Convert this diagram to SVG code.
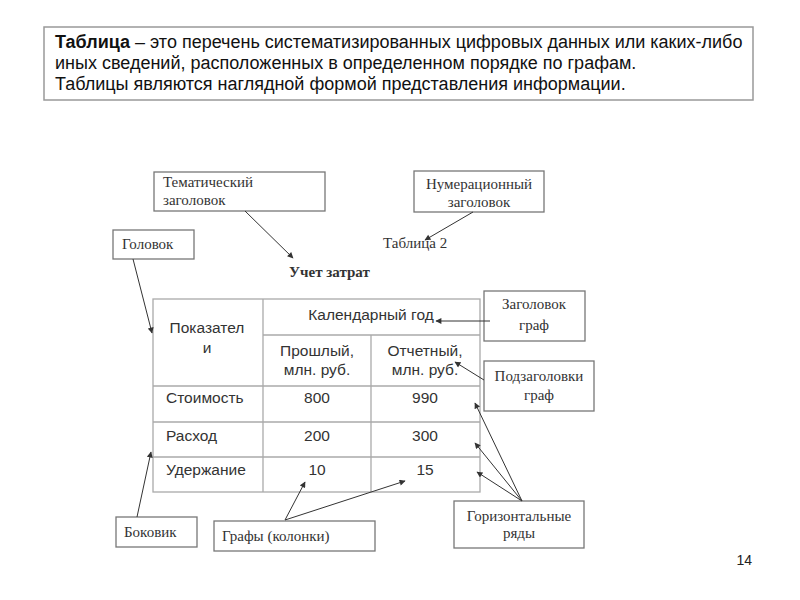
<svg xmlns="http://www.w3.org/2000/svg" width="800" height="600" viewBox="0 0 800 600">
<style>
.box{fill:#fff;stroke:#777;stroke-width:1.3}
.sf{font-family:"Liberation Serif","Times New Roman",serif;font-size:15px;fill:#333}
.ss{font-family:"Liberation Sans",Arial,sans-serif;font-size:15.5px;fill:#333}
.top{font-family:"Liberation Sans",Arial,sans-serif;font-size:18px;fill:#111}
.grid{stroke:#aaa;stroke-width:1.3;fill:none}
.c{stroke:#333;stroke-width:1;fill:none;marker-end:url(#ah)}
</style>
<defs>
<marker id="ah" viewBox="0 0 10 10" refX="9" refY="5" markerWidth="7" markerHeight="6" orient="auto" markerUnits="userSpaceOnUse">
<path d="M0,0 L10,5 L0,10 z" fill="#333"/>
</marker>
</defs>
<rect width="800" height="600" fill="#fff"/>
<g id="definition">
<rect x="44" y="27" width="709" height="73" fill="#fff" stroke="#999" stroke-width="1.5"/>
<text class="top" x="55" y="48"><tspan font-weight="bold">Таблица</tspan> – это перечень систематизированных цифровых данных или каких-либо</text>
<text class="top" x="55" y="69">иных сведений, расположенных в определенном порядке по графам.</text>
<text class="top" x="55" y="90">Таблицы являются наглядной формой представления информации.</text>
</g>
<g id="thematic">
<rect class="box" x="154" y="172" width="171" height="39"/>
<text class="sf" x="163" y="187">Тематический</text>
<text class="sf" x="163" y="205">заголовок</text>
</g>
<g id="numbering">
<rect class="box" x="414" y="171" width="130" height="41"/>
<text class="sf" x="479" y="189" text-anchor="middle">Нумерационный</text>
<text class="sf" x="479" y="207" text-anchor="middle">заголовок</text>
</g>
<g id="golovok">
<rect class="box" x="113" y="230" width="81" height="29"/>
<text class="sf" x="122" y="249">Головок</text>
</g>
<g id="caption">
<text class="sf" x="383" y="248">Таблица 2</text>
<text class="sf" x="289" y="277" font-weight="bold">Учет затрат</text>
</g>
<g id="table">
<rect class="grid" x="153" y="299" width="327" height="193"/>
<line class="grid" x1="263" y1="299" x2="263" y2="492"/>
<line class="grid" x1="371" y1="335" x2="371" y2="492"/>
<line class="grid" x1="263" y1="335" x2="480" y2="335"/>
<line class="grid" x1="153" y1="386" x2="480" y2="386"/>
<line class="grid" x1="153" y1="422" x2="480" y2="422"/>
<line class="grid" x1="153" y1="457" x2="480" y2="457"/>
<text class="ss" x="207" y="333" text-anchor="middle">Показател</text>
<text class="ss" x="207" y="353" text-anchor="middle">и</text>
<text class="ss" x="371" y="320" text-anchor="middle">Календарный год</text>
<text class="ss" x="317" y="356" text-anchor="middle">Прошлый,</text>
<text class="ss" x="317" y="375" text-anchor="middle">млн. руб.</text>
<text class="ss" x="425" y="356" text-anchor="middle">Отчетный,</text>
<text class="ss" x="425" y="375" text-anchor="middle">млн. руб.</text>
<text class="ss" x="166" y="403">Стоимость</text>
<text class="ss" x="317" y="403" text-anchor="middle">800</text>
<text class="ss" x="425" y="403" text-anchor="middle">990</text>
<text class="ss" x="166" y="441">Расход</text>
<text class="ss" x="317" y="441" text-anchor="middle">200</text>
<text class="ss" x="425" y="441" text-anchor="middle">300</text>
<text class="ss" x="166" y="475">Удержание</text>
<text class="ss" x="317" y="475" text-anchor="middle">10</text>
<text class="ss" x="425" y="475" text-anchor="middle">15</text>
</g>
<g id="col-header">
<rect class="box" x="484" y="291" width="101" height="50"/>
<text class="sf" x="534" y="309" text-anchor="middle">Заголовок</text>
<text class="sf" x="534" y="330" text-anchor="middle">граф</text>
</g>
<g id="col-subheader">
<rect class="box" x="484" y="361" width="110" height="50"/>
<text class="sf" x="539" y="381" text-anchor="middle">Подзаголовки</text>
<text class="sf" x="539" y="400" text-anchor="middle">граф</text>
</g>
<g id="rows">
<rect class="box" x="454" y="501" width="130" height="47"/>
<text class="sf" x="519" y="521" text-anchor="middle">Горизонтальные</text>
<text class="sf" x="519" y="538" text-anchor="middle">ряды</text>
</g>
<g id="bokovik">
<rect class="box" x="116" y="517" width="81" height="30"/>
<text class="sf" x="124" y="537">Боковик</text>
</g>
<g id="columns">
<rect class="box" x="214" y="521" width="161" height="30"/>
<text class="sf" x="222" y="541">Графы (колонки)</text>
</g>
<g id="page">
<text x="752" y="565" text-anchor="end" font-family="Liberation Sans,Arial,sans-serif" font-size="14" fill="#222">14</text>
</g>
<g id="connectors">
<line class="c" x1="245" y1="211" x2="293" y2="258"/>
<line class="c" x1="473" y1="212" x2="425" y2="240"/>
<line class="c" x1="133" y1="259" x2="152" y2="333"/>
<line class="c" x1="490" y1="321" x2="436" y2="321"/>
<line class="c" x1="484" y1="380" x2="455" y2="362"/>
<line class="c" x1="522" y1="501" x2="475" y2="403"/>
<line class="c" x1="522" y1="501" x2="475" y2="443"/>
<line class="c" x1="522" y1="501" x2="477" y2="472"/>
<line class="c" x1="137" y1="517" x2="151" y2="452"/>
<line class="c" x1="285" y1="520" x2="305" y2="482"/>
<line class="c" x1="285" y1="520" x2="405" y2="481"/>
</g>
</svg>
